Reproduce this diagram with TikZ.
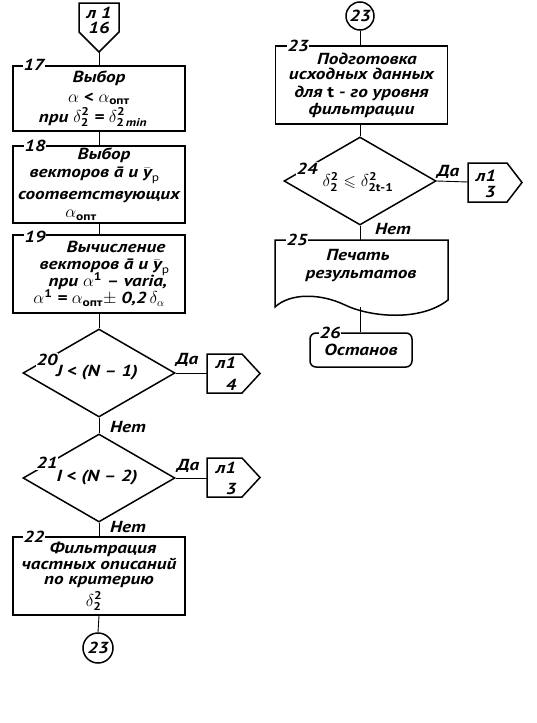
\documentclass[tikz,border=0pt]{standalone}
\usepackage{amsmath,amssymb}
\usepackage{fontspec}
\setmainfont{PT Sans}[FakeStretch=1.2]
\usetikzlibrary{shapes.geometric}
\lineskiplimit=-100pt
\newcommand\opt{\text{\bfseries\upshape опт}}
\newcommand\bu[1]{\text{\bfseries\upshape #1}}
\tikzset{
  every node/.style={font=\fontsize{16}{19}\selectfont\bfseries\itshape},
  blk/.style={draw, line width=1.5pt, minimum width=172pt, align=center, inner sep=0pt},
  dia/.style={draw, diamond, line width=1.5pt, minimum width=152pt, minimum height=88pt, aspect=1.727, inner sep=0pt},
  num/.style={fill=white, inner sep=1pt},
  lbl/.style={inner sep=0pt},
  con/.style={line width=0.9pt},
  shp/.style={line width=1.5pt},
  circ/.style={draw, circle, line width=1.5pt, minimum size=30pt, inner sep=0pt}
}
\begin{document}
\begin{tikzpicture}[x=1pt,y=-1pt]
\useasboundingbox (0,0) rectangle (536,723);
% ---------- left column ----------
% off-page connector 16
\draw[shp] (79,3) -- (119,3) -- (119,32) -- (99,52) -- (79,32) -- cycle;
\coordinate (c16) at (99,52);
\node[lbl] (c16a) at (99,13) {л 1};
\node[lbl] (c16b) at (99,28) {16};

\node[blk, minimum height=65pt] (b17) at (99,98.5) {Выбор\\[1pt]
  $\alpha$ < $\alpha_{\opt}$\\[1pt]
  \hspace*{-12pt}при $\delta_{\bu2}^{\bu2}$ = $\delta^{\bu2}_{\bu2\,\text{\itshape min}}$};
\node[num] (n17) at (34,65) {17};

\node[blk, minimum height=77pt] (b18) at (99,184.5) {\hspace*{10pt}Выбор\\[-1pt]
  \hspace*{-10pt}векторов ā и $\bar{\text{y}}_{\mathrm p}$\\[3pt]
  соответствующих\\[-1pt]
  \hspace*{-36pt}$\alpha_{\opt}$};
\node[num] (n18) at (35,146) {18};

\node[blk, minimum height=78pt] (b19) at (99,274) {\hspace*{34pt}Вычисление\\[-2pt]
  \hspace*{10pt}векторов ā и $\bar{\text{y}}_{\mathrm p}$\\[-2pt]
  \hspace*{18pt}при $\alpha^{\bu1}$ – varia,\\[-2pt]
  $\alpha^{\bu1}$ = $\alpha_{\opt}$$\pm$ 0,2$\,\delta_\alpha$};
\node[num] (n19) at (35,237) {19};

\node[dia] (d20) at (99,373) {};
\node[lbl] (t20) at (97,373) {J < (N – 1)};
\node[num] (n20) at (47,360) {20};
\node[lbl] (y20) at (187,360) {Да};
\node[lbl] (no20) at (128,427) {Нет};
\draw[shp] (207,354) -- (242,354) -- (260,373.5) -- (242,393) -- (207,393) -- cycle;
\coordinate (o20) at (207,373);
\node[lbl] (o20a) at (226,363) {л1};
\node[lbl] (o20b) at (231,385) {4};

\node[dia] (d21) at (99,478) {};
\node[lbl] (t21) at (97,478) {I < (N – 2)};
\node[num] (n21) at (47,463) {21};
\node[lbl] (y21) at (188,466) {Да};
\node[lbl] (no21) at (128,527) {Нет};
\draw[shp] (207,458) -- (242,458) -- (260,477.5) -- (242,497) -- (207,497) -- cycle;
\coordinate (o21) at (207,478);
\node[lbl] (o21a) at (226,468) {л1};
\node[lbl] (o21b) at (231,489) {3};

\node[blk, minimum height=78pt] (b22) at (99,576) {\hspace*{8pt}Фильтрация\\[-3pt]
  частных описаний\\[-4pt]
  по критерию\\[3pt]
  \hspace*{-10pt}$\delta_{\bu2}^{\bu2}$};
\node[num] (n22) at (34,537) {22};

\node[circ] (k23a) at (98,648) {23};

% ---------- right column ----------
\node[circ, minimum size=28pt] (k23b) at (360,16) {23};

\node[blk, minimum height=78pt] (b23) at (361.5,85) {\hspace*{11pt}Подготовка\\[-4pt]
  исходных данных\\[-1pt]
  для {\upshape t} - го уровня\\[-2pt]
  фильтрации};
\node[num] (n23) at (298,46) {23};

\node[dia] (d24) at (360,181) {};
\node[lbl] (t24) at (358,182) {$\delta_{\bu2}^{\bu2} \leqslant \delta^{\bu2}_{\bu{2t-1}}$};
\node[num] (n24) at (307,169) {24};
\node[lbl] (y24) at (448,172) {Да};
\node[lbl] (no24) at (393,229) {Нет};
\draw[shp] (468,163) -- (507,163) -- (522,182.5) -- (507,202) -- (468,202) -- cycle;
\coordinate (o24) at (468,182);
\node[lbl] (o24a) at (486,176) {л1};
\node[lbl] (o24b) at (490,192) {3};

% document shape 25
\draw[shp] (275,307) -- (275,240) -- (448,240) -- (448,300)
  .. controls (420,322) and (370,317) .. (345,305)
  .. controls (320,293) and (290,293) .. (275,307) -- cycle;
\coordinate (doc25n) at (360,240);
\coordinate (doc25s) at (360,307);
\node[lbl, align=center] (t25) at (361,266) {\hspace*{-6pt}Печать\\[-1pt] результатов};
\node[num] (n25) at (297,240) {25};

\node[draw, line width=1.5pt, rounded corners=6pt, minimum width=102pt, minimum height=34pt, inner sep=0pt] (b26) at (361,350) {Останов};
\node[num] (n26) at (330,333) {26};

% ---------- connectors ----------
\draw[con] (c16) -- (b17.north);
\draw[con] (b17.south) -- (b18.north);
\draw[con] (b18.south) -- (b19.north);
\draw[con] (b19.south) -- (d20.north);
\draw[con] (d20.south) -- (d21.north);
\draw[con] (d21.south) -- (b22.north);
\draw[con] (b22.south) -- (k23a.north);
\draw[con] (d20.east) -- (o20);
\draw[con] (d21.east) -- (o21);
\draw[con] (k23b.south) -- (b23.north -| k23b.south);
\draw[con] (b23.south -| k23b.south) -- (d24.north);
\draw[con] (d24.east) -- (o24);
\draw[con] (d24.south) -- (doc25n);
\draw[con] (doc25s) -- (b26.north -| doc25s);
\end{tikzpicture}
\end{document}
